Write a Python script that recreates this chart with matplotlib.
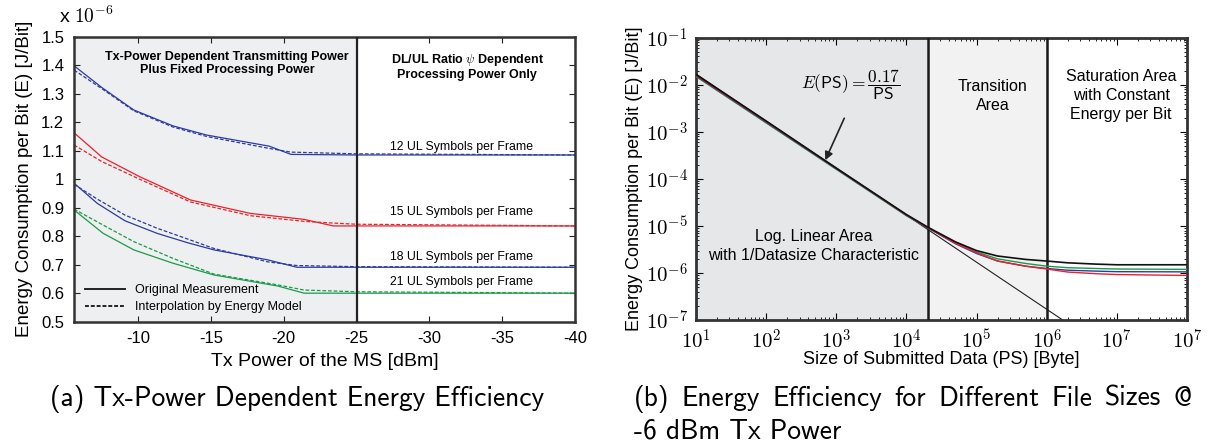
import numpy as np
import matplotlib
matplotlib.use("Agg")
import matplotlib.pyplot as plt
from matplotlib.ticker import LogLocator, NullFormatter

plt.rcParams['font.family'] = ['Liberation Sans', 'DejaVu Sans']
plt.rcParams['mathtext.fontset'] = 'cm'

# --- (a) energy per bit vs. Tx power, values in 1e-6 J/Bit ---
tx_12 = [-5.6, -7.5, -9.7, -12.4, -14.7, -19.0, -20.5, -25.0, -40.0]
e_12_meas = [1.398, 1.322, 1.243, 1.187, 1.155, 1.116, 1.087, 1.085, 1.085]
e_12_model = [1.383, 1.318, 1.240, 1.183, 1.150, 1.108, 1.095, 1.089, 1.085]

tx_15 = [-5.6, -7.5, -10.1, -13.6, -17.7, -21.4, -23.4, -25.0, -40.0]
e_15_meas = [1.163, 1.078, 1.009, 0.927, 0.880, 0.859, 0.836, 0.836, 0.836]
e_15_model = [1.120, 1.062, 1.000, 0.920, 0.872, 0.852, 0.846, 0.842, 0.836]

tx_18 = [-5.6, -7.2, -9.1, -11.3, -13.4, -15.2, -18.9, -20.9, -25.0, -40.0]
e_18_meas = [0.986, 0.915, 0.854, 0.810, 0.777, 0.752, 0.717, 0.691, 0.691, 0.691]
e_18_model = [0.982, 0.930, 0.874, 0.828, 0.790, 0.757, 0.710, 0.697, 0.693, 0.691]

tx_21 = [-5.6, -7.6, -9.7, -12.4, -15.2, -19.6, -21.4, -25.0, -40.0]
e_21_meas = [0.892, 0.810, 0.752, 0.705, 0.664, 0.625, 0.600, 0.600, 0.600]
e_21_model = [0.895, 0.839, 0.781, 0.722, 0.667, 0.629, 0.611, 0.605, 0.600]

ul_labels = ['12 UL Symbols per Frame', '15 UL Symbols per Frame',
             '18 UL Symbols per Frame', '21 UL Symbols per Frame']
ul_label_y = [1.114, 0.884, 0.728, 0.640]

# --- (b) energy per bit vs. submitted data size at -6 dBm ---
ps = [1e1, 1e2, 1e3, 1e4, 2e4, 5e4, 1e5, 2e5, 5e5, 1e6, 2e6, 5e6, 1e7, 1e8]
e_black = [1.65e-2, 1.70e-3, 1.70e-4, 1.75e-5, 9.5e-6, 4.6e-6, 3.0e-6, 2.3e-6,
           1.95e-6, 1.80e-6, 1.65e-6, 1.55e-6, 1.50e-6, 1.50e-6]
e_green = [1.50e-2, 1.55e-3, 1.60e-4, 1.65e-5, 9.2e-6, 4.4e-6, 2.8e-6, 2.0e-6,
           1.60e-6, 1.40e-6, 1.30e-6, 1.25e-6, 1.22e-6, 1.20e-6]
e_blue = [1.55e-2, 1.60e-3, 1.65e-4, 1.70e-5, 9.2e-6, 4.2e-6, 2.6e-6, 1.8e-6,
          1.40e-6, 1.25e-6, 1.15e-6, 1.10e-6, 1.07e-6, 1.06e-6]
e_red = [1.58e-2, 1.65e-3, 1.68e-4, 1.72e-5, 9.3e-6, 4.3e-6, 2.7e-6, 1.8e-6,
         1.40e-6, 1.22e-6, 1.05e-6, 0.97e-6, 0.93e-6, 0.89e-6]
fit_coeff = 0.17
fit_ps = [1e1, 1e8]

BLUE = '#2e3b9c'
RED = '#e8232b'
GREEN = '#1b9a4a'

fig = plt.figure(figsize=(12.1, 4.44), dpi=100)

# ---------------- left panel ----------------
ax1 = fig.add_axes([0.0612, 0.2755, 0.414, 0.6418])
ax1.axvspan(-5.6, -25, color='#eeeff1', zorder=0)
ax1.axvline(-25, color='#222222', lw=1.6, zorder=3)

for tx, meas, model, col in [(tx_12, e_12_meas, e_12_model, BLUE),
                             (tx_15, e_15_meas, e_15_model, RED),
                             (tx_18, e_18_meas, e_18_model, BLUE),
                             (tx_21, e_21_meas, e_21_model, GREEN)]:
    ax1.plot(tx, meas, color=col, lw=0.9)
    ax1.plot(tx, model, color=col, lw=0.9, ls=(0, (3, 1.5)))

for txt, y in zip(ul_labels, ul_label_y):
    ax1.text(-32.2, y, txt, ha='center', va='center', fontsize=8.8)

ax1.text(-16.1, 1.406, 'Tx-Power Dependent Transmitting Power\nPlus Fixed Processing Power',
         ha='center', va='center', fontsize=9, fontweight='bold', linespacing=1.15)
ax1.text(-32.6, 1.395, 'DL/UL Ratio $\\psi$ Dependent\nProcessing Power Only',
         ha='center', va='center', fontsize=9, fontweight='bold', linespacing=1.15)

ax1.plot([], [], color='#222222', lw=1.4, label='Original Measurement')
ax1.plot([], [], color='#222222', lw=1.4, ls=(0, (2, 1)), label='Interpolation by Energy Model')
ax1.legend(loc='lower left', frameon=False, fontsize=9, handlelength=3.2,
           borderaxespad=0.3, labelspacing=0.4, bbox_to_anchor=(0.005, 0.0))

ax1.set_xlim(-5.6, -40)
ax1.set_ylim(0.5, 1.5)
ax1.set_xticks([-10, -15, -20, -25, -30, -35, -40])
ax1.set_xticklabels(['-10', '-15', '-20', '-25', '-30', '-35', '-40'])
ax1.set_yticks([0.5, 0.6, 0.7, 0.8, 0.9, 1.0, 1.1, 1.2, 1.3, 1.4, 1.5])
ax1.set_yticklabels(['0.5', '0.6', '0.7', '0.8', '0.9', '1', '1.1', '1.2', '1.3', '1.4', '1.5'])
ax1.tick_params(direction='in', top=True, right=True, labelsize=12, length=4,
                width=0.8, pad=7, colors='#222222', labelcolor='black')
for s in ax1.spines.values():
    s.set_linewidth(1.8)
    s.set_color('#333333')
ax1.set_xlabel('Tx Power of the MS [dBm]', fontsize=14, labelpad=5)
ax1.set_ylabel('Energy Consumption per Bit (E) [J/Bit]', fontsize=13.5, labelpad=6)
fig.text(0.049, 0.962, 'x $10^{-6}$', fontsize=14, ha='left', va='center')

# ---------------- right panel ----------------
ax2 = fig.add_axes([0.5752, 0.279, 0.4058, 0.636])
ax2.set_xscale('log')
ax2.set_yscale('log')
ax2.axvspan(1e1, 2.05e4, color='#e6e7e9', zorder=0)
ax2.axvspan(2.05e4, 1e6, color='#f2f2f2', zorder=0)
ax2.axvline(2.05e4, color='#1a1a1a', lw=1.8, zorder=3)
ax2.axvline(1e6, color='#1a1a1a', lw=1.8, zorder=3)

ax2.plot(fit_ps, [fit_coeff / p for p in fit_ps], color='#222222', lw=0.8, zorder=2)
ax2.plot(ps, e_green, color=GREEN, lw=1.0, zorder=4)
ax2.plot(ps, e_blue, color=BLUE, lw=1.0, zorder=4)
ax2.plot(ps, e_red, color=RED, lw=1.0, zorder=4)
ax2.plot(ps, e_black, color='#111111', lw=1.2, zorder=5)

ax2.annotate('', xy=(697, 2.5e-4), xytext=(1300, 1.95e-3),
             arrowprops=dict(arrowstyle='-|>', color='#222222', lw=1.2,
                             mutation_scale=12, shrinkA=0, shrinkB=0))
ax2.text(1585, 9.9e-3, r'$E(\mathsf{PS}) = \dfrac{0.17}{\mathsf{PS}}$',
         ha='center', va='center', fontsize=12.5)
ax2.text(470, 3.7e-6, 'Log. Linear Area\nwith 1/Datasize Characteristic',
         ha='center', va='center', fontsize=11.5, linespacing=1.35)
ax2.text(1.7e5, 5.8e-3, 'Transition\nArea',
         ha='center', va='center', fontsize=11.5, linespacing=1.35)
ax2.text(1.15e7, 6.0e-3, 'Saturation Area\nwith Constant\nEnergy per Bit',
         ha='center', va='center', fontsize=11.5, linespacing=1.35)

ax2.set_xlim(1e1, 1e8)
ax2.set_ylim(1e-7, 1e-1)
ax2.set_xticks([1e1, 1e2, 1e3, 1e4, 1e5, 1e6, 1e7, 1e8])
ax2.set_xticklabels(['$10^{1}$', '$10^{2}$', '$10^{3}$', '$10^{4}$',
                     '$10^{5}$', '$10^{6}$', '$10^{7}$', '$10^{7}$'])
ax2.set_yticks([1e-7, 1e-6, 1e-5, 1e-4, 1e-3, 1e-2, 1e-1])
ax2.set_yticklabels(['$10^{-7}$', '$10^{-6}$', '$10^{-5}$', '$10^{-4}$',
                     '$10^{-3}$', '$10^{-2}$', '$10^{-1}$'])
ax2.xaxis.set_minor_locator(LogLocator(base=10, subs=np.arange(2, 10), numticks=20))
ax2.yaxis.set_minor_locator(LogLocator(base=10, subs=np.arange(2, 10), numticks=20))
ax2.xaxis.set_minor_formatter(NullFormatter())
ax2.yaxis.set_minor_formatter(NullFormatter())
ax2.tick_params(which='major', direction='in', top=True, right=True, labelsize=15,
                length=5, width=0.8, pad=6)
ax2.tick_params(which='minor', direction='in', top=True, right=True, length=2.5, width=0.6)
for s in ax2.spines.values():
    s.set_linewidth(2.0)
    s.set_color('#333333')
ax2.set_xlabel('Size of Submitted Data (PS) [Byte]', fontsize=13, labelpad=-1)
ax2.set_ylabel('Energy Consumption per Bit (E) [J/Bit]', fontsize=13, labelpad=2)

# ---------------- captions ----------------
cap = ['cmss10', 'DejaVu Sans']
fig.text(0.2455, 0.086, '(a) Tx-Power Dependent Energy Efficiency',
         ha='center', va='baseline', fontsize=19.8, family=cap)


def justified_line(words, x0, x1, y, **kw):
    # place words so the line runs from x0 to x1 (figure fraction)
    renderer = fig.canvas.get_renderer()
    fig_w = fig.bbox.width
    items = [fig.text(0, y, w, ha='left', va='baseline', **kw) for w in words]
    widths = [t.get_window_extent(renderer).width / fig_w for t in items]
    gap = (x1 - x0 - sum(widths)) / (len(words) - 1)
    x = x0
    for t, w in zip(items, widths):
        t.set_x(x)
        x += w + gap


justified_line('(b) Energy Efficiency for Different File Sizes @'.split(),
               0.524, 0.985, 0.086, fontsize=19.8, family=cap)
fig.text(0.524, 0.012, '-6 dBm Tx Power',
         ha='left', va='baseline', fontsize=19.8, family=cap)

fig.savefig('out.png', dpi=100)
